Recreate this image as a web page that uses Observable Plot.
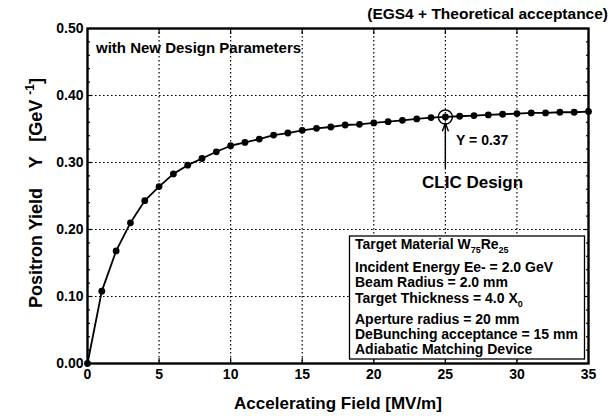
<!DOCTYPE html>
<html>
<head>
<meta charset="utf-8">
<script src="https://cdn.jsdelivr.net/npm/d3@7"></script>
<script src="https://cdn.jsdelivr.net/npm/@observablehq/plot@0.6"></script>
<style>
  html, body { margin: 0; padding: 0; background: white; }
  #chart svg { display: block; }
</style>
</head>
<body>
<div id="chart"></div>
<script>
// Accelerating field (MV/m) and positron yield (1/GeV)
const field = [0,1,2,3,4,5,6,7,8,9,10,11,12,13,14,15,16,17,18,19,20,21,22,23,24,25,26,27,28,29,30,31,32,33,34,35];
const yieldY = [0.000,0.108,0.168,0.210,0.243,0.264,0.283,0.296,0.306,0.316,0.325,0.330,0.335,0.341,0.344,0.348,0.351,0.353,0.356,0.357,0.359,0.361,0.363,0.365,0.367,0.368,0.369,0.370,0.371,0.372,0.373,0.374,0.374,0.375,0.375,0.376];
const xTicks = [0,5,10,15,20,25,30,35];
const xGrid = [5,10,15,20,25,30];
const yTicks = [0,0.1,0.2,0.3,0.4,0.5];
const yGrid = [0.1,0.2,0.3,0.4];
const yMinor = [0.02,0.04,0.06,0.08,0.12,0.14,0.16,0.18,0.22,0.24,0.26,0.28,0.32,0.34,0.36,0.38,0.42,0.44,0.46,0.48];
const design = [{x: 25, y: 0.368}];
const designArrow = [{x1: 25, y1: 0.292, x2: 25, y2: 0.359}];
const valueNote = [{x: 25.75, y: 0.333, text: "Y = 0.37"}];
const designNote = [{x: 26.9, y: 0.270, text: "CLIC Design"}];
const legendLines = [
  [["Target Material W", 0], ["75", 1], ["Re", 0], ["25", 1]],
  [["Incident Energy Ee- = 2.0 GeV", 0]],
  [["Beam Radius = 2.0 mm", 0]],
  [["Target Thickness = 4.0 X", 0], ["0", 1]],
  [["Aperture radius = 20 mm", 0]],
  [["DeBunching acceptance = 15 mm", 0]],
  [["Adiabatic Matching Device", 0]]
];
const legendBaselines = [249, 272, 287, 303, 324, 339, 354];

const data = field.map((f, i) => ({field: f, y: yieldY[i]}));
const font = "'Liberation Sans', Arial, Helvetica, sans-serif";

const chart = Plot.plot({
  width: 613,
  height: 416,
  marginLeft: 87,
  marginRight: 25,
  marginTop: 28,
  marginBottom: 53,
  style: {fontFamily: font, background: "white", color: "black", overflow: "visible"},
  x: {domain: [0, 35]},
  y: {domain: [0, 0.5]},
  marks: [
    Plot.gridX(xGrid, {stroke: "black", strokeOpacity: 1, strokeWidth: 1.2, strokeDasharray: "1.6,2.4"}),
    Plot.gridY(yGrid, {stroke: "black", strokeOpacity: 1, strokeWidth: 1.2, strokeDasharray: "1.6,2.4"}),
    Plot.axisX(xTicks, {tickSize: 0, tickPadding: 6, fontSize: 14, fontWeight: "bold", tickFormat: d => d, label: null}),
    Plot.axisX(xGrid, {tickSize: -5, text: null, label: null, strokeWidth: 1.2}),
    Plot.axisX(xGrid, {anchor: "top", tickSize: -5, text: null, label: null, strokeWidth: 1.2}),
    Plot.axisY(yTicks, {tickSize: 0, tickPadding: 4, fontSize: 14, fontWeight: "bold", tickFormat: d3.format(".2f"), label: null}),
    Plot.axisY(yGrid, {tickSize: -5, text: null, label: null, strokeWidth: 1.2}),
    Plot.axisY(yMinor, {tickSize: -3, text: null, label: null, strokeWidth: 1.2}),
    Plot.axisY(yGrid, {anchor: "right", tickSize: -5, text: null, label: null, strokeWidth: 1.2}),
    Plot.axisY(yMinor, {anchor: "right", tickSize: -3, text: null, label: null, strokeWidth: 1.2}),
    Plot.frame({stroke: "black", strokeWidth: 2.4}),
    Plot.line(data, {x: "field", y: "y", stroke: "black", strokeWidth: 1.8}),
    Plot.dot(data, {x: "field", y: "y", r: 3.4, fill: "black", stroke: "none"}),
    Plot.dot(design, {x: "x", y: "y", r: 7, fill: "none", stroke: "black", strokeWidth: 1.4}),
    Plot.arrow(designArrow, {x1: "x1", y1: "y1", x2: "x2", y2: "y2", stroke: "black", strokeWidth: 1.4, headLength: 9, headAngle: 40}),
    Plot.text(valueNote, {x: "x", y: "y", text: "text", fontSize: 14, textAnchor: "start", fontWeight: "bold", fill: "black"}),
    Plot.text(designNote, {x: "x", y: "y", text: "text", fontSize: 17, textAnchor: "middle", fontWeight: "bold", fill: "black"})
  ]
});

document.getElementById("chart").appendChild(chart);

const svg = d3.select(chart);

// Header texts
svg.append("text")
  .attr("x", 608).attr("y", 19)
  .attr("text-anchor", "end")
  .attr("font-family", font).attr("font-size", 15.5).attr("font-weight", "bold")
  .attr("fill", "black")
  .text("(EGS4 + Theoretical acceptance)");

svg.append("text")
  .attr("x", 96).attr("y", 53)
  .attr("text-anchor", "start")
  .attr("font-family", font).attr("font-size", 15).attr("font-weight", "bold")
  .attr("fill", "black")
  .text("with New Design Parameters");

// Axis titles
svg.append("text")
  .attr("x", 338).attr("y", 409)
  .attr("text-anchor", "middle")
  .attr("font-family", font).attr("font-size", 17).attr("font-weight", "bold")
  .attr("fill", "black")
  .text("Accelerating Field [MV/m]");

const yt = svg.append("text")
  .attr("transform", "translate(42,193) rotate(-90)")
  .attr("text-anchor", "middle")
  .attr("font-family", font).attr("font-size", 18).attr("font-weight", "bold")
  .attr("fill", "black")
  .attr("xml:space", "preserve")
  .style("white-space", "pre");
yt.append("tspan").text("Positron Yield    Y   [GeV ");
yt.append("tspan").attr("font-size", 12).attr("dy", -8).text("-1");
yt.append("tspan").attr("dy", 8).text("]");

// Parameter box
svg.append("rect")
  .attr("x", 349.5).attr("y", 236).attr("width", 235).attr("height", 123)
  .attr("fill", "white").attr("stroke", "black").attr("stroke-width", 1.3);

legendLines.forEach((parts, i) => {
  const t = svg.append("text")
    .attr("x", 355).attr("y", legendBaselines[i])
    .attr("text-anchor", "start")
    .attr("font-family", font).attr("font-size", 14).attr("font-weight", "bold")
    .attr("fill", "black");
  let prevSub = false;
  parts.forEach(([s, sub]) => {
    if (sub) {
      t.append("tspan").attr("font-size", 9).attr("dy", prevSub ? 0 : 4).text(s);
    } else {
      t.append("tspan").attr("dy", prevSub ? -4 : 0).text(s);
    }
    prevSub = !!sub;
  });
});
</script>
</body>
</html>
